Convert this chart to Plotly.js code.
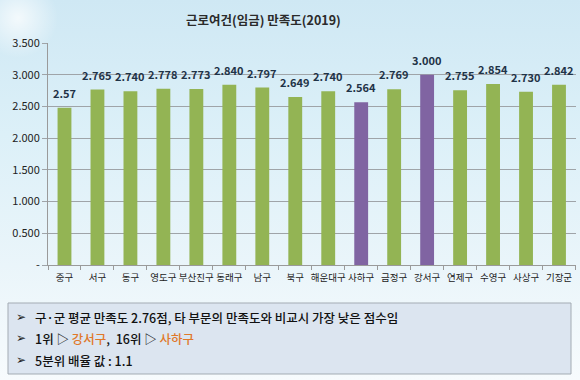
<!DOCTYPE html>
<html>
<head>
<meta charset="utf-8">
<script src="https://cdn.plot.ly/plotly-3.0.1.min.js"></script>
<style>
html,body{margin:0;padding:0;}
body{width:580px;height:380px;overflow:hidden;
background:radial-gradient(circle at 18px 18px, rgba(255,255,255,0.75) 0px, rgba(255,255,255,0) 40px),
linear-gradient(180deg,#cfe8f4 0%,#dcf0f8 35%,#eaf5fa 70%,#f7fbfd 100%);}
#chart{width:580px;height:380px;}
</style>
</head>
<body>
<div id="chart"></div>
<script>
const districts = ["중구","서구","동구","영도구","부산진구","동래구","남구","북구","해운대구","사하구","금정구","강서구","연제구","수영구","사상구","기장군"];
const barValues = [2.48,2.765,2.740,2.778,2.773,2.840,2.797,2.649,2.740,2.564,2.769,3.000,2.755,2.854,2.730,2.842];
const valueLabels = ["2.57","2.765","2.740","2.778","2.773","2.840","2.797","2.649","2.740","2.564","2.769","3.000","2.755","2.854","2.730","2.842"];
const highlighted = ["사하구","강서구"];
const yTickVals = [0,0.5,1,1.5,2,2.5,3,3.5];
const yTickText = ["-","0.500","1.000","1.500","2.000","2.500","3.000","3.500"];
const noteLines = [
  "구·군 평균 만족도 2.76점, 타 부문의 만족도와 비교시 가장 낮은 점수임",
  "1위 ▷ <span style='color:#e0782a'>강서구</span>,  16위 ▷ <span style='color:#e0782a'>사하구</span>",
  "5분위 배율 값 : 1.1"
];

const green = "#93b454", purple = "#8064a2";
const colors = districts.map(d => highlighted.includes(d) ? purple : green);

const L = 48, R = 4, T = 43, B = 115;
const W = 580 - L - R, H = 380 - T - B;
const px = x => (x - L) / W;
const py = y => (380 - B - y) / H;

const font = "Noto Sans CJK KR, Malgun Gothic, sans-serif";

const annotations = [{
  text: "근로여건(임금) 만족도(2019)", xref: "paper", yref: "paper",
  x: px(263), y: py(19), xanchor: "center", yanchor: "middle", showarrow: false,
  font: {family: font, size: 12.5, color: "#2b2b2b", weight: 700}
}];
districts.forEach((d, i) => {
  annotations.push({text: valueLabels[i], x: d, y: barValues[i], xref: "x", yref: "y",
    xanchor: "center", yanchor: "bottom", yshift: 5, showarrow: false,
    font: {family: font, size: 11, color: "#1f3347", weight: 700}});
});
const lineY = [317, 338, 360];
noteLines.forEach((t, i) => {
  annotations.push({text: "➢", xref: "paper", yref: "paper", x: px(14), y: py(lineY[i]),
    xanchor: "left", yanchor: "middle", showarrow: false,
    font: {family: "DejaVu Sans", size: 12, color: "#222"}});
  annotations.push({text: t, xref: "paper", yref: "paper", x: px(33), y: py(lineY[i]),
    xanchor: "left", yanchor: "middle", showarrow: false,
    font: {family: font, size: 12.5, color: "#111", weight: 500}});
});

const trace = {
  type: "bar", x: districts, y: barValues,
  marker: {color: colors}, hoverinfo: "skip"
};

const layout = {
  width: 580, height: 380,
  margin: {l: L, r: R, t: T, b: B, pad: 0},
  paper_bgcolor: "rgba(0,0,0,0)", plot_bgcolor: "rgba(0,0,0,0)",
  showlegend: false, bargap: 0.58,
  xaxis: {
    type: "category", showgrid: false, showline: true, linecolor: "#9a9a9a", linewidth: 1,
    ticks: "outside", tickson: "boundaries", ticklen: 4, tickcolor: "#9a9a9a",
    tickangle: 0, automargin: false, ticklabelstandoff: 4,
    tickfont: {family: font, size: 9.5, color: "#222"}, fixedrange: true
  },
  yaxis: {
    range: [0, 3.5], tickvals: yTickVals, ticktext: yTickText,
    showgrid: true, gridcolor: "#9fa4a8", gridwidth: 1,
    showline: true, linecolor: "#9a9a9a", linewidth: 1,
    ticks: "outside", ticklen: 5, tickcolor: "#9fa4a8",
    zeroline: false, automargin: false,
    tickfont: {family: font, size: 11, color: "#222"}, fixedrange: true
  },
  shapes: [{
    type: "rect", xref: "paper", yref: "paper",
    x0: px(8), x1: px(571), y0: py(303), y1: py(374),
    fillcolor: "#dce5f0", line: {color: "#a3abb3", width: 1}, layer: "below"
  }],
  annotations: annotations
};

Plotly.newPlot("chart", [trace], layout, {displayModeBar: false, staticPlot: true});
</script>
</body>
</html>
